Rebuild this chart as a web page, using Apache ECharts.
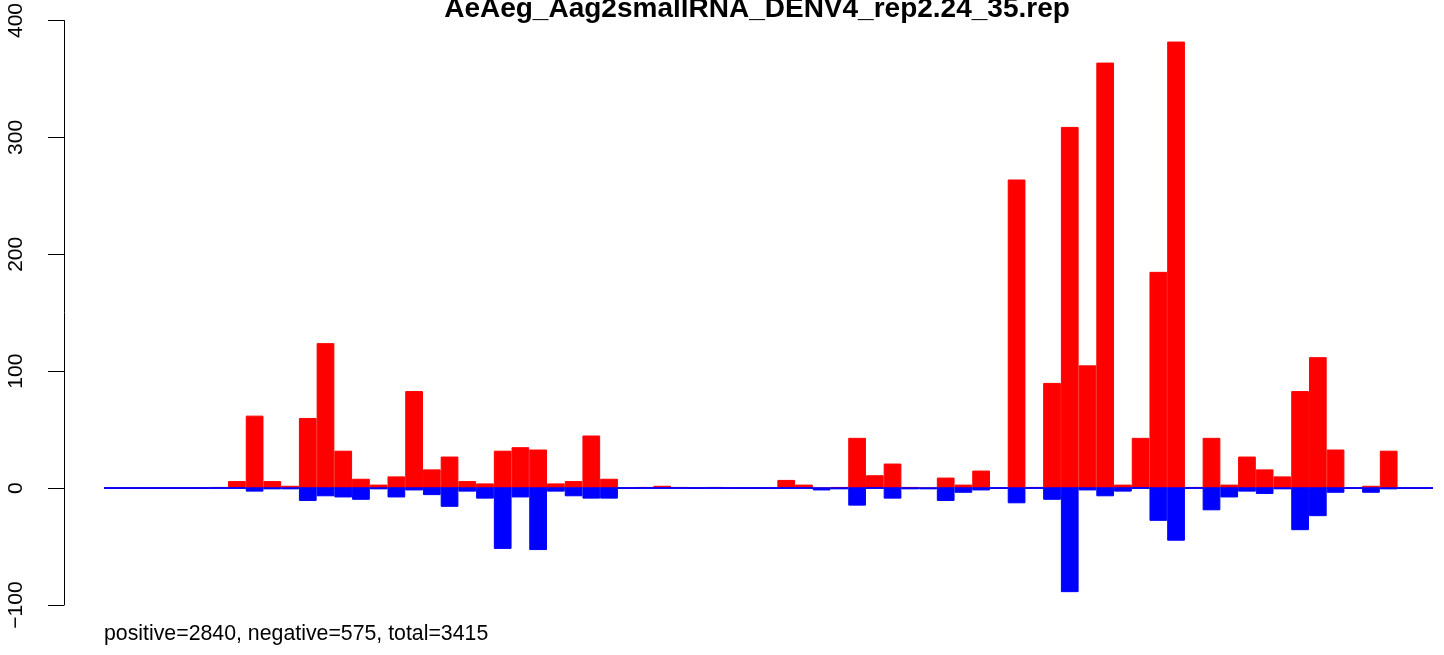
<!DOCTYPE html>
<html>
<head>
<meta charset="utf-8">
<title>AeAeg_Aag2smallRNA_DENV4_rep2.24_35.rep</title>
<script src="https://cdn.jsdelivr.net/npm/echarts@6/dist/echarts.min.js"></script>
<style>
  html, body { margin: 0; padding: 0; background: #fff; }
  #chart { width: 1444px; height: 655px; }
</style>
</head>
<body>
<div id="chart"></div>
<script>
// read counts per bin, positive strand (red) and negative strand (blue)
const positive = [0, 0, 0, 0, 0, 0, 1, 6, 62, 6, 2, 60, 124, 32, 8, 3, 10, 83, 16, 27,
  6, 4, 32, 35, 33, 4, 6, 45, 8, 0, 1, 2, 1, 0, 1, 0, 0, 0, 7, 3,
  0, 1, 43, 11, 21, 1, 0, 9, 3, 15, 0, 264, 1, 90, 309, 105, 364, 3, 43, 185,
  382, 1, 43, 3, 27, 16, 10, 83, 112, 33, 0, 2, 32, 0, 0];
const negative = [0, 0, 0, 0, 0, 0, 0, 0, -3, -1, -1, -11, -7, -8, -10, -1, -8, -2, -6, -16,
  -3, -9, -52, -8, -53, -3, -7, -9, -9, 0, 0, 0, 0, 0, 0, 0, 0, 0, 0, 0,
  -2, -1, -15, 0, -9, -1, -1, -11, -4, -2, 0, -13, 0, -10, -89, -2, -7, -3, 0, -28,
  -45, 0, -19, -8, -3, -5, -1, -36, -24, -4, 0, -4, -1, 0, 0];
const bins = positive.map((v, i) => i + 1);
const yTicks = [-100, 0, 100, 200, 300, 400];

const titleText = 'AeAeg_Aag2smallRNA_DENV4_rep2.24_35.rep';
const posSum = 2840, negSum = 575;
const footText = 'positive=' + posSum + ', negative=' + negSum + ', total=' + (posSum + negSum);

const font = '"Liberation Sans", Arial, sans-serif';
const chart = echarts.init(document.getElementById('chart'));

const option = {
  animation: false,
  backgroundColor: '#fff',
  title: {
    text: titleText,
    left: 752,
    textAlign: 'center',
    top: -10,
    textStyle: { fontFamily: font, fontWeight: 'bold', fontSize: 28, color: '#000' }
  },
  grid: { left: 104, right: 11, top: 20, bottom: 50 },
  xAxis: {
    type: 'category',
    data: bins,
    boundaryGap: true,
    show: false
  },
  yAxis: {
    type: 'value',
    min: yTicks[0],
    max: yTicks[yTicks.length - 1],
    interval: 100,
    offset: 40,
    axisLine: { show: true, lineStyle: { color: '#000', width: 1 } },
    axisTick: { show: true, length: 16, lineStyle: { color: '#000', width: 1 } },
    axisLabel: {
      rotate: 90,
      margin: 37,
      fontSize: 21,
      fontFamily: font,
      color: '#000',
      formatter: v => (v < 0 ? '\u2212' + Math.abs(v) : String(v))
    },
    splitLine: { show: false }
  },
  series: [
    {
      name: 'positive',
      type: 'bar',
      data: positive,
      barWidth: '100%',
      barGap: '-100%',
      barCategoryGap: 0,
      itemStyle: { color: '#ff0000', borderColor: '#ff0000', borderWidth: 1 }
    },
    {
      name: 'negative',
      type: 'bar',
      data: negative,
      barWidth: '100%',
      barGap: '-100%',
      itemStyle: { color: '#0000ff', borderColor: '#0000ff', borderWidth: 1 },
      markLine: {
        silent: true,
        symbol: 'none',
        label: { show: false },
        lineStyle: { color: '#0000ff', width: 1.5, type: 'solid' },
        data: [{ yAxis: 0 }]
      }
    }
  ],
  graphic: [
    {
      type: 'text',
      left: 104,
      top: 624,
      style: { text: footText, fontFamily: font, fontSize: 21.3, fill: '#000' }
    }
  ]
};

chart.setOption(option);
</script>
</body>
</html>
